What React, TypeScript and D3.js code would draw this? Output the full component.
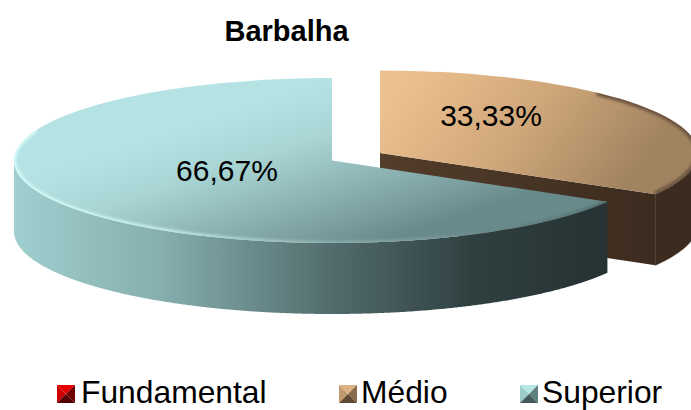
import { useMemo } from 'react';
import * as d3 from 'd3';

const categories = ['Fundamental', 'Médio', 'Superior'];
const values = [0, 33.33, 66.67];
const valueLabels = ['', '33,33%', '66,67%'];
const title = 'Barbalha';

const WIDTH = 691;
const HEIGHT = 410;
const RX = 318;
const RY = 82.5;
const DEPTH = 71;
const FONT = '"Liberation Sans", Arial, sans-serif';

// where each slice sits once exploded, and how far its label is nudged
const centers = [
  { x: 356, y: 157 },
  { x: 380, y: 153 },
  { x: 332, y: 160.5 },
];
const labelNudge = [
  { x: 0, y: 0 },
  { x: 5, y: -22 },
  { x: 1, y: -6 },
];
// legend swatch faces: top, left, right, bottom
const swatches = [
  ['#e60000', '#d00000', '#700000', '#520000'],
  ['#dcb384', '#c09a6e', '#8a6c4c', '#5f4a35'],
  ['#b6e6e6', '#9accca', '#5f8080', '#445a5a'],
];
const legendX = [57, 339, 520];
const legendTextX = [81, 361, 542];

export default function App() {
  const slices = useMemo(
    () => d3.pie<number>().sort(null).value(d => d)(values),
    []
  );

  // front wall of a slice: only the part of the rim facing the viewer
  const wallPath = (i: number) => {
    const s = slices[i];
    const a0 = Math.max(s.startAngle, Math.PI / 2);
    const a1 = Math.min(s.endAngle, (3 * Math.PI) / 2);
    if (a1 <= a0) return null;
    const c = centers[i];
    return d3
      .area<number>()
      .x(a => c.x + RX * Math.sin(a))
      .y0(a => c.y - RY * Math.cos(a))
      .y1(a => c.y - RY * Math.cos(a) + DEPTH)(d3.range(a0, a1, 0.005).concat(a1));
  };

  const rimPath = (i: number, from: number, to: number) => {
    const c = centers[i];
    return d3
      .line<number>()
      .x(a => c.x + RX * Math.sin(a))
      .y(a => c.y - RY * Math.cos(a))(d3.range(from, to, 0.005).concat(to));
  };

  const top = d3.arc<d3.PieArcDatum<number>>().innerRadius(0).outerRadius(1);
  const labelArc = d3.arc<d3.PieArcDatum<number>>().innerRadius(0).outerRadius(0.77);

  const med = slices[1];
  const sup = slices[2];
  const medCut = {
    x: centers[1].x + RX * Math.sin(med.endAngle),
    y: centers[1].y - RY * Math.cos(med.endAngle),
  };

  return (
    <svg
      width={WIDTH}
      height={HEIGHT}
      style={{ position: 'absolute', left: 0, top: 0, background: '#fff' }}
    >
      <defs>
        <linearGradient id="supTop" gradientUnits="userSpaceOnUse" x1="320" y1="85" x2="372" y2="245">
          <stop offset="0" stopColor="#b5e3e3" />
          <stop offset="0.3" stopColor="#a8d4d4" />
          <stop offset="0.55" stopColor="#93baba" />
          <stop offset="0.8" stopColor="#7da0a1" />
          <stop offset="1" stopColor="#688a8b" />
        </linearGradient>
        <linearGradient id="supWall" gradientUnits="userSpaceOnUse" x1="14" y1="0" x2="605" y2="0">
          <stop offset="0" stopColor="#a0cfcf" />
          <stop offset="0.25" stopColor="#86aeae" />
          <stop offset="0.55" stopColor="#50696a" />
          <stop offset="0.78" stopColor="#2f3f40" />
          <stop offset="1" stopColor="#263233" />
        </linearGradient>
        <linearGradient id="supRim" gradientUnits="userSpaceOnUse" x1="14" y1="0" x2="605" y2="0">
          <stop offset="0" stopColor="#d8ffff" />
          <stop offset="0.25" stopColor="#cdf3f3" />
          <stop offset="0.55" stopColor="#8fb0b0" />
          <stop offset="1" stopColor="#4f6a6c" />
        </linearGradient>
        <linearGradient id="medTop" gradientUnits="userSpaceOnUse" x1="420" y1="70" x2="610" y2="210">
          <stop offset="0" stopColor="#ebc08f" />
          <stop offset="0.5" stopColor="#cfa67a" />
          <stop offset="1" stopColor="#a0835f" />
        </linearGradient>
        <linearGradient id="medCut" gradientUnits="userSpaceOnUse" x1="380" y1="0" x2="655" y2="0">
          <stop offset="0" stopColor="#533d2b" />
          <stop offset="1" stopColor="#3c2c1f" />
        </linearGradient>
        <filter id="soft" x="-10%" y="-20%" width="120%" height="140%">
          <feGaussianBlur stdDeviation="1.6" />
        </filter>
        <clipPath id="medClip">
          <path d={top(med) ?? ''} transform={`translate(${centers[1].x},${centers[1].y}) scale(${RX},${RY})`} />
        </clipPath>
        <clipPath id="supClip">
          <path d={top(sup) ?? ''} transform={`translate(${centers[2].x},${centers[2].y}) scale(${RX},${RY})`} />
        </clipPath>
      </defs>

      <text
        x={286.5}
        y={41}
        textAnchor="middle"
        fontFamily={FONT}
        fontWeight="bold"
        fontSize={29}
        fill="#000"
      >
        {title}
      </text>

      {/* Médio, behind */}
      <path
        d={`M${centers[1].x},${centers[1].y}L${medCut.x},${medCut.y}v${DEPTH}L${centers[1].x},${centers[1].y + DEPTH}Z`}
        fill="url(#medCut)"
      />
      <path d={wallPath(1) ?? ''} fill="#3c2c1f" stroke="#3c2c1f" strokeWidth={0.6} />
      <g clipPath="url(#medClip)">
        <rect x={0} y={0} width={WIDTH} height={HEIGHT} fill="url(#medTop)" />
        <path
          d={rimPath(1, 0.75, med.endAngle) ?? ''}
          fill="none"
          stroke="#6a5240"
          strokeWidth={6}
          filter="url(#soft)"
        />
      </g>

      {/* Superior, in front */}
      <path d={wallPath(2) ?? ''} fill="url(#supWall)" />
      <g clipPath="url(#supClip)">
        <rect x={0} y={0} width={WIDTH} height={HEIGHT} fill="url(#supTop)" />
        <path
          d={rimPath(2, sup.startAngle, Math.PI * 1.62) ?? ''}
          fill="none"
          stroke="url(#supRim)"
          strokeWidth={4}
          filter="url(#soft)"
        />
      </g>

      {slices.map((s, i) =>
        valueLabels[i] ? (
          <text
            key={categories[i]}
            x={centers[i].x + RX * labelArc.centroid(s)[0] + labelNudge[i].x}
            y={centers[i].y + RY * labelArc.centroid(s)[1] + labelNudge[i].y}
            dy="0.35em"
            textAnchor="middle"
            fontFamily={FONT}
            fontSize={30}
            fill="#000"
          >
            {valueLabels[i]}
          </text>
        ) : null
      )}

      {categories.map((c, i) => {
        const x = legendX[i];
        const y = 385;
        const w = 18;
        const pts = [
          `${x},${y} ${x + w},${y} ${x + w / 2},${y + w / 2}`,
          `${x},${y} ${x},${y + w} ${x + w / 2},${y + w / 2}`,
          `${x + w},${y} ${x + w},${y + w} ${x + w / 2},${y + w / 2}`,
          `${x},${y + w} ${x + w},${y + w} ${x + w / 2},${y + w / 2}`,
        ];
        return (
          <g key={c}>
            {pts.map((p, j) => (
              <polygon key={j} points={p} fill={swatches[i][j]} />
            ))}
            <text x={legendTextX[i]} y={403} fontFamily={FONT} fontSize={31.8} fill="#000">
              {c}
            </text>
          </g>
        );
      })}
    </svg>
  );
}
